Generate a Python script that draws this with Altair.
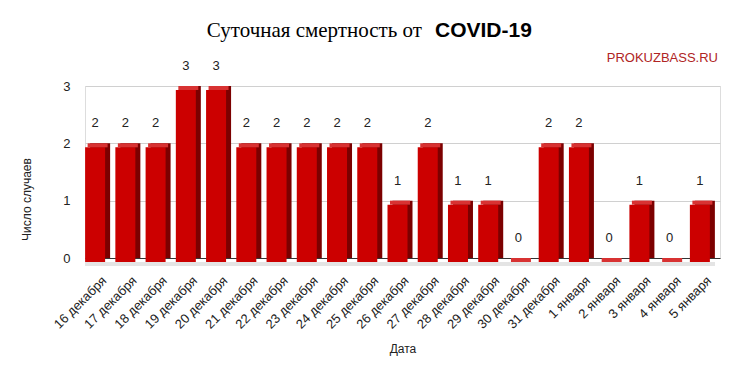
import altair as alt
import pandas as pd

dates = ["16 декабря", "17 декабря", "18 декабря", "19 декабря", "20 декабря",
         "21 декабря", "22 декабря", "23 декабря", "24 декабря", "25 декабря",
         "26 декабря", "27 декабря", "28 декабря", "29 декабря", "30 декабря",
         "31 декабря", "1 января", "2 января", "3 января", "4 января", "5 января"]
deaths = [2, 2, 2, 3, 3, 2, 2, 2, 2, 2, 1, 2, 1, 1, 0, 2, 2, 0, 1, 0, 1]

df = pd.DataFrame({"date": dates, "value": deaths})
one = pd.DataFrame({"v": [0]})

W, H = 635, 172
FONT = "Liberation Sans"

x = alt.X("date:N", sort=dates, title="Дата",
          scale=alt.Scale(paddingInner=0, paddingOuter=0),
          axis=alt.Axis(labelAngle=-45, labelFontSize=13, labelColor="#222",
                        labelFont=FONT, ticks=False, domainColor="#333", labelLimit=0,
                        labelPadding=16,
                        titleFont=FONT, titleFontSize=12, titleFontWeight="normal",
                        titleColor="#222", titlePadding=12))
y = alt.Y("value:Q", title="Число случаев",
          scale=alt.Scale(domain=[0, 3], nice=False),
          axis=alt.Axis(values=[0, 1, 2, 3], gridColor="#d0d0d0", domain=False,
                        ticks=False, labelPadding=15, labelFontSize=13,
                        labelFont=FONT, labelColor="#222", titleFont=FONT,
                        titleFontSize=12, titleFontWeight="normal", titleColor="#222",
                        titleX=-52, titleY=113))

base = alt.Chart(df)

shadow = alt.Chart(one).mark_rule(
    color="#e4e4e4", strokeWidth=4
).encode(x=alt.value(0), x2=alt.value(630), y=alt.value(H + 6))

side = base.mark_bar(width=20, color="#7c0000", xOffset=0, x2Offset=0).encode(x=x, y=y)
front = base.mark_bar(width=20, color="#cc0000", xOffset=-5, x2Offset=-5,
                      yOffset=4, y2Offset=4).encode(x=x, y=y)
top = base.mark_tick(size=20, thickness=4, color="#d83232", opacity=1,
                     xOffset=-2.5, yOffset=2).encode(x=x, y=y)
labels = base.mark_text(fontSize=13, font=FONT, color="#222", xOffset=-5, dy=-20,
                        baseline="middle").encode(x=x, y=y, text="value:Q")

title_txt = alt.Chart(one).mark_text(font="Liberation Serif", fontSize=21, color="#000",
                                     align="right", baseline="middle").encode(
    x=alt.value(337), y=alt.value(-55), text=alt.value("Суточная смертность от"))
covid_txt = alt.Chart(one).mark_text(font=FONT, fontSize=21, fontWeight="bold", color="#000",
                                     align="left", baseline="middle").encode(
    x=alt.value(350), y=alt.value(-55), text=alt.value("COVID-19"))
site_txt = alt.Chart(one).mark_text(font=FONT, fontSize=13, color="#b02424",
                                    align="right", baseline="middle").encode(
    x=alt.value(633), y=alt.value(-28), text=alt.value("PROKUZBASS.RU"))

chart = alt.layer(shadow, side, front, top, labels, title_txt, covid_txt, site_txt).properties(
    width=W, height=H,
    autosize=alt.AutoSizeParams(type="none"),
    padding={"left": 77, "top": 78, "right": 10, "bottom": 108},
).configure_view(stroke=None).configure(background="white")

chart.save("out.html", embed_options={"renderer": "svg", "actions": False})
